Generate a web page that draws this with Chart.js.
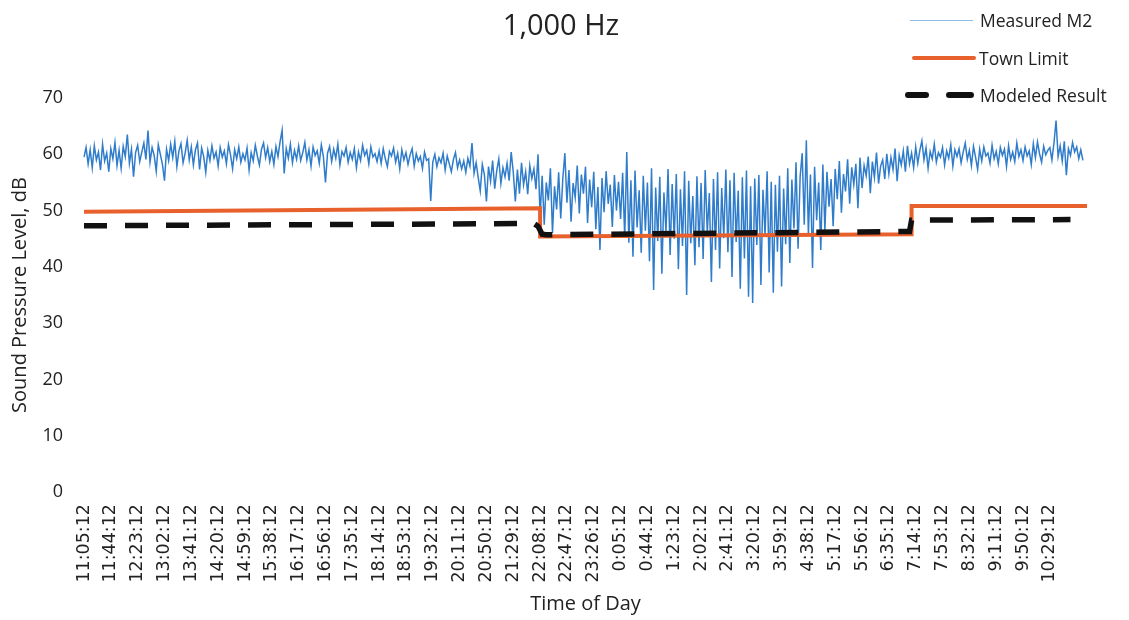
<!DOCTYPE html>
<html>
<head>
<meta charset="utf-8">
<script src="https://cdn.jsdelivr.net/npm/chart.js@4.4.0/dist/chart.umd.min.js"></script>
<style>
html,body{margin:0;padding:0;background:#fff;}
#wrap{position:relative;width:1129px;height:620px;overflow:hidden;background:#fff;}
#c{position:absolute;left:0;top:0;}
.t{position:absolute;font-family:"Open Sans",sans-serif;color:#222;white-space:nowrap;}
#title{left:411px;width:300px;top:5px;text-align:center;font-size:29px;line-height:38px;}
.leg{font-size:17.5px;line-height:22px;left:980px;}
.sw{position:absolute;}
</style>
</head>
<body>
<div id="wrap">
  <canvas id="c" width="1129" height="620"></canvas>
  <div id="title" class="t">1,000 Hz</div>
  <div class="sw" style="left:910px;top:20px;width:63px;height:1px;background:#8fbde8;"></div>
  <div class="t leg" style="top:9px;">Measured M2</div>
  <div class="sw" style="left:912px;top:56px;width:64px;height:4px;background:#e8612c;border-radius:2px;"></div>
  <div class="t leg" style="top:47px;left:979px;">Town Limit</div>
  <div class="sw" style="left:905px;top:92px;width:24px;height:6px;background:#111;border-radius:3px;"></div>
  <div class="sw" style="left:946px;top:92px;width:28px;height:6px;background:#111;border-radius:3px;"></div>
  <div class="t leg" style="top:84px;">Modeled Result</div>
</div>
<script>
// Tick labels shown on the x axis (every 39 minutes)
const TICK_LABELS = ["11:05:12","11:44:12","12:23:12","13:02:12","13:41:12","14:20:12","14:59:12","15:38:12",
  "16:17:12","16:56:12","17:35:12","18:14:12","18:53:12","19:32:12","20:11:12","20:50:12","21:29:12",
  "22:08:12","22:47:12","23:26:12","0:05:12","0:44:12","1:23:12","2:02:12","2:41:12","3:20:12","3:59:12",
  "4:38:12","5:17:12","5:56:12","6:35:12","7:14:12","7:53:12","8:32:12","9:11:12","9:50:12","10:29:12"];
const START_MIN = 11*60 + 5;   // first sample 11:05:12
const STEP_MIN = 3;            // sample spacing, minutes
const N_CATEGORIES = 487;
const TICK_EVERY = 13;         // 13 samples = 39 minutes

// Measured M2 (dB), one value per 3-minute sample
const MEASURED_M2 = [
59.5,61.2,58.3,60.8,57.6,61.5,59.0,60.4,57.2,61.8,58.8,60.2,56.9,
61.0,59.2,62.1,58.0,60.7,57.5,61.4,59.6,63.5,58.4,60.9,56.0,60.3,
61.6,58.7,60.4,62.0,59.1,64.2,58.6,61.2,59.8,57.0,61.7,60.0,58.2,
55.3,60.9,58.9,61.8,59.4,62.3,57.8,60.6,61.9,58.5,60.2,62.5,59.0,
61.3,58.1,60.8,62.0,57.3,61.1,59.6,56.8,60.7,58.9,61.5,59.3,60.4,
57.9,61.2,59.5,60.6,58.3,61.7,59.9,57.4,60.8,59.2,61.3,58.6,60.1,
59.0,61.1,57.2,60.3,58.8,61.6,59.7,58.1,60.9,62.0,59.4,61.2,58.7,
60.5,58.2,61.4,59.6,62.2,64.3,56.6,61.0,59.3,61.8,58.5,60.7,59.1,
61.5,58.9,60.3,62.1,59.0,60.8,57.9,61.3,59.8,60.6,58.4,61.7,59.6,
55.0,60.2,61.4,58.7,60.9,59.3,61.8,58.1,60.5,59.7,61.2,58.6,60.3,
59.1,61.0,57.6,60.4,58.9,61.6,59.8,60.7,58.3,61.3,59.5,60.1,58.7,
60.6,58.4,61.0,59.2,57.8,60.5,59.7,61.1,58.6,60.2,57.4,60.8,59.0,
60.3,58.2,59.9,61.0,57.9,60.1,58.8,59.6,57.5,60.4,58.9,59.2,51.7,
58.6,60.0,57.8,59.4,58.5,60.2,57.2,59.7,58.3,56.9,59.1,60.3,57.6,
59.0,57.4,58.8,56.8,59.3,57.9,62.0,56.6,58.5,55.9,53.5,58.2,56.4,
51.6,57.8,55.2,58.9,53.9,57.1,59.2,54.8,57.6,56.0,58.4,55.3,60.4,
56.8,51.6,57.3,53.0,58.5,54.6,56.9,52.9,58.0,55.7,57.4,53.8,60.0,
49.0,56.2,47.5,55.0,51.8,57.5,46.0,54.3,50.2,56.8,48.6,55.6,60.2,
51.4,57.2,48.0,54.9,52.3,58.0,49.5,56.4,53.0,57.8,47.8,55.5,50.6,
56.9,46.7,54.2,43.0,55.8,49.7,57.0,51.2,54.6,47.1,56.3,50.0,55.1,
48.5,56.7,45.2,60.4,44.3,55.4,41.8,57.1,47.0,53.6,42.5,56.2,46.4,
55.0,41.0,57.5,35.9,54.1,44.6,56.0,38.8,53.2,46.3,57.4,42.1,54.7,
45.0,56.5,39.6,53.8,43.7,57.0,35.0,55.3,44.2,52.6,40.3,56.1,43.5,
54.9,41.4,57.2,46.0,53.1,37.3,55.6,43.0,56.8,39.7,54.0,45.1,57.3,
42.6,55.4,38.2,56.7,44.4,53.5,36.1,55.9,41.5,57.1,34.7,54.3,33.6,
55.7,43.9,56.3,36.8,53.7,45.6,57.0,39.0,55.1,35.4,54.6,42.7,56.2,
36.5,53.9,44.0,57.5,40.7,55.5,46.8,58.6,43.2,56.0,60.2,47.5,62.5,
45.8,56.4,39.8,57.8,48.3,55.0,43.0,58.2,46.5,56.9,50.7,55.6,47.2,
57.4,52.0,58.8,49.6,56.5,53.4,59.1,51.2,57.7,54.6,58.3,50.4,59.4,
54.0,58.0,56.2,59.6,53.1,58.7,55.9,60.3,54.8,57.9,59.0,55.6,60.1,
56.5,59.4,57.3,61.0,55.2,59.8,58.1,60.6,56.9,61.5,58.3,60.2,57.6,
61.3,58.4,60.7,62.4,59.0,61.1,57.5,60.5,59.2,61.8,58.6,60.3,59.5,
61.2,58.1,60.6,59.3,61.7,57.9,60.8,59.6,61.0,58.5,60.4,62.0,59.1,
60.7,58.0,61.4,59.5,57.3,60.9,58.8,61.3,59.7,60.2,58.4,61.6,59.2,
60.5,58.3,61.2,59.8,60.9,57.8,61.5,59.1,60.4,58.7,62.0,59.6,60.8,
58.9,61.3,59.7,60.6,58.2,61.9,59.4,62.2,60.1,58.6,61.4,59.9,60.7,
61.2,59.0,62.0,66.0,59.6,61.5,58.8,62.3,56.3,61.0,59.8,62.1,60.4,
61.3,59.2,60.8,58.9
];

// Town Limit breakpoints: [sample index, dB]
const TOWN_LIMIT = [[0,49.8],[221,50.4],[221,45.4],[401,45.8],[401,50.8],[486,50.8]];
// Modeled Result breakpoints: [sample index, dB]
const MODELED_RESULT = [[0,47.3],[218,47.7],[220,47.2],[222,45.8],[224,45.7],[400,46.3],[401,48.3],[478,48.4]];

const pad = n => String(n).padStart(2,'0');
const CATEGORIES = [];
for (let i = 0; i < N_CATEGORIES; i++) {
  const m = (START_MIN + i*STEP_MIN) % 1440;
  CATEGORIES.push(Math.floor(m/60) + ':' + pad(m%60) + ':12 #' + i);
}
const toPts = arr => arr.map(([i,v]) => ({x: CATEGORIES[i], y: v}));

new Chart(document.getElementById('c'), {
  type: 'line',
  data: {
    labels: CATEGORIES,
    datasets: [
      {label:'Measured M2', data: MEASURED_M2, borderColor:'#2f7ccb', borderWidth:1.5,
       pointRadius:0, tension:0, order:3},
      {label:'Town Limit', data: toPts(TOWN_LIMIT), borderColor:'#e8612c', borderWidth:4,
       pointRadius:0, tension:0, order:2},
      {label:'Modeled Result', data: toPts(MODELED_RESULT), borderColor:'#111111', borderWidth:5.5,
       borderDash:[23,18], pointRadius:0, tension:0, order:1}
    ]
  },
  options: {
    responsive:false, animation:false, events:[],
    layout:{padding:{top:98, right:42, left:0, bottom:0}},
    plugins:{legend:{display:false}, title:{display:false}, tooltip:{enabled:false}},
    scales:{
      x:{
        type:'category',
        grid:{display:false, drawTicks:false}, border:{display:false},
        afterBuildTicks: s => { s.ticks = s.ticks.filter(t => t.value % TICK_EVERY === 0 && t.value/TICK_EVERY < TICK_LABELS.length); },
        afterFit: s => { s.height = 128; },
        ticks:{autoSkip:false, maxRotation:90, minRotation:90, padding:12,
          font:{family:'DejaVu Sans', size:17.5}, color:'#222',
          callback: v => TICK_LABELS[Math.round(v/TICK_EVERY)]},
        title:{display:true, text:'Time of Day', color:'#222',
          font:{family:'Open Sans', size:20}, padding:{top:2, bottom:4}}
      },
      y:{
        min:0, max:70,
        grid:{display:false, drawTicks:false}, border:{display:false},
        afterFit: s => { s.width = 84; },
        ticks:{stepSize:10, padding:21, color:'#222', font:{family:'Open Sans', size:18}},
        title:{display:true, text:'Sound Pressure Level, dB', color:'#222',
          font:{family:'Open Sans', size:20}, padding:{top:8, bottom:4}}
      }
    }
  }
});
</script>
</body>
</html>
